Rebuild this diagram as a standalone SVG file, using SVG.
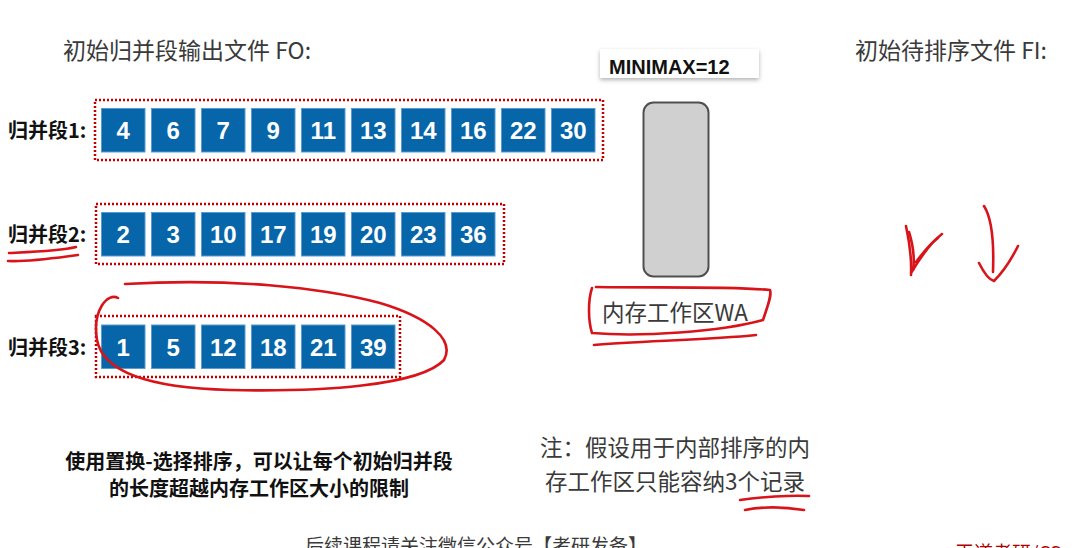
<svg xmlns="http://www.w3.org/2000/svg" width="1075" height="548" viewBox="0 0 1075 548">
<defs>
<style>
.t{font-family:"Noto Sans CJK SC","Noto Sans",sans-serif;fill:#3a3a3a}
.lbl{font-family:"Noto Sans CJK SC",sans-serif;font-size:20px;font-weight:bold;fill:#111}
.box{fill:#0765a9;stroke:#5a9bd0;stroke-width:1}
.num{font-family:"Liberation Sans",Arial,sans-serif;font-size:24px;font-weight:bold;fill:#fff;text-anchor:middle}
.seg{fill:none;stroke:#c00000;stroke-width:2.5;stroke-dasharray:2 2}
.ink{fill:none;stroke:#d8141a;stroke-width:2.6;stroke-linecap:round;stroke-linejoin:round}
</style>
<filter id="sh" x="-10%" y="-30%" width="120%" height="170%"><feDropShadow dx="0" dy="2" stdDeviation="2" flood-color="#000" flood-opacity="0.3"/></filter>
</defs>
<rect width="1075" height="548" fill="#fff"/>
<text class="t" x="63" y="59" font-size="23">初始归并段输出文件 FO:</text>
<text class="t" x="855" y="59" font-size="23">初始待排序文件 FI:</text>

<g id="seg1">
<text class="lbl" x="8" y="138">归并段1:</text>
<rect class="seg" x="95" y="100" width="508" height="60"/>
<rect class="box" x="101.5" y="108.5" width="43.5" height="43.5"/><text class="num" x="123.3" y="139">4</text>
<rect class="box" x="151.5" y="108.5" width="43.5" height="43.5"/><text class="num" x="173.3" y="139">6</text>
<rect class="box" x="201.5" y="108.5" width="43.5" height="43.5"/><text class="num" x="223.3" y="139">7</text>
<rect class="box" x="251.5" y="108.5" width="43.5" height="43.5"/><text class="num" x="273.3" y="139">9</text>
<rect class="box" x="301.5" y="108.5" width="43.5" height="43.5"/><text class="num" x="323.3" y="139">11</text>
<rect class="box" x="351.5" y="108.5" width="43.5" height="43.5"/><text class="num" x="373.3" y="139">13</text>
<rect class="box" x="401.5" y="108.5" width="43.5" height="43.5"/><text class="num" x="423.3" y="139">14</text>
<rect class="box" x="451.5" y="108.5" width="43.5" height="43.5"/><text class="num" x="473.3" y="139">16</text>
<rect class="box" x="501.5" y="108.5" width="43.5" height="43.5"/><text class="num" x="523.3" y="139">22</text>
<rect class="box" x="551.5" y="108.5" width="43.5" height="43.5"/><text class="num" x="573.3" y="139">30</text>
</g>

<g id="seg2">
<text class="lbl" x="8" y="242">归并段2:</text>
<rect class="seg" x="96" y="204" width="408" height="60"/>
<rect class="box" x="101.5" y="212.5" width="43.5" height="43.5"/><text class="num" x="123.3" y="243">2</text>
<rect class="box" x="151.5" y="212.5" width="43.5" height="43.5"/><text class="num" x="173.3" y="243">3</text>
<rect class="box" x="201.5" y="212.5" width="43.5" height="43.5"/><text class="num" x="223.3" y="243">10</text>
<rect class="box" x="251.5" y="212.5" width="43.5" height="43.5"/><text class="num" x="273.3" y="243">17</text>
<rect class="box" x="301.5" y="212.5" width="43.5" height="43.5"/><text class="num" x="323.3" y="243">19</text>
<rect class="box" x="351.5" y="212.5" width="43.5" height="43.5"/><text class="num" x="373.3" y="243">20</text>
<rect class="box" x="401.5" y="212.5" width="43.5" height="43.5"/><text class="num" x="423.3" y="243">23</text>
<rect class="box" x="451.5" y="212.5" width="43.5" height="43.5"/><text class="num" x="473.3" y="243">36</text>
</g>

<g id="seg3">
<text class="lbl" x="8" y="355">归并段3:</text>
<rect class="seg" x="96" y="316" width="304" height="61"/>
<rect class="box" x="101.5" y="325" width="43.5" height="43.5"/><text class="num" x="123.3" y="355.5">1</text>
<rect class="box" x="151.5" y="325" width="43.5" height="43.5"/><text class="num" x="173.3" y="355.5">5</text>
<rect class="box" x="201.5" y="325" width="43.5" height="43.5"/><text class="num" x="223.3" y="355.5">12</text>
<rect class="box" x="251.5" y="325" width="43.5" height="43.5"/><text class="num" x="273.3" y="355.5">18</text>
<rect class="box" x="301.5" y="325" width="43.5" height="43.5"/><text class="num" x="323.3" y="355.5">21</text>
<rect class="box" x="351.5" y="325" width="43.5" height="43.5"/><text class="num" x="373.3" y="355.5">39</text>
</g>

<g id="minimax">
<rect x="600" y="49" width="159" height="29" fill="#fff" filter="url(#sh)"/>
<text x="609" y="74" font-family="Liberation Sans,Arial,sans-serif" font-size="20" font-weight="bold" fill="#111">MINIMAX=12</text>
</g>

<g id="wa">
<rect x="643.5" y="102.5" width="65" height="174" rx="10" fill="#d0d0d0" stroke="#505050" stroke-width="2"/>
<text class="t" x="602" y="321" font-size="22.5" fill="#444">内存工作区WA</text>
</g>

<g id="notes">
<text x="259" y="469" text-anchor="middle" font-family="Noto Sans CJK SC,sans-serif" font-size="20" font-weight="bold" fill="#111">使用置换-选择排序，可以让每个初始归并段</text>
<text x="259" y="496" text-anchor="middle" font-family="Noto Sans CJK SC,sans-serif" font-size="20" font-weight="bold" fill="#111">的长度超越内存工作区大小的限制</text>
<text class="t" x="540" y="456" font-size="22.5" fill="#444">注：假设用于内部排序的内</text>
<text class="t" x="545" y="490" font-size="22.5" fill="#444">存工作区只能容纳3个记录</text>
<text class="t" x="305" y="553" font-size="19" fill="#222">后续课程请关注微信公众号【考研发备】</text>
<text x="955" y="560" font-family="Noto Sans CJK SC,sans-serif" font-size="19" fill="#b00000">王道考研/CS</text>
</g>

<g id="ink">
<path class="ink" d="M9,253 C30,252 60,251 76,247"/>
<path class="ink" d="M8,261 C30,262 55,258 78,255"/>
<path class="ink" d="M118,298 C108,292 92,310 97,340 C103,372 150,388 230,390 C320,392 420,386 444,360 C455,340 430,318 380,303 C320,287 230,278 125,284"/>
<path class="ink" d="M592,288 C588,300 588,320 592,333 C640,337 720,332 763,320 C768,305 772,295 770,290 C730,286 660,288 596,287"/>
<path class="ink" d="M594,345 C640,341 710,340 756,335"/>
<path class="ink" d="M740,500 C760,497 790,495 809,496"/>
<path class="ink" d="M745,510 C765,506 785,507 804,510"/>
<path class="ink" d="M906,226 C909,240 912,255 911,275 M911,273 C920,258 930,243 942,234" stroke-width="4"/>
<path class="ink" d="M909,232 C913,245 915,257 913,270 M916,262 C925,250 932,242 938,238" stroke-width="7"/>
<path class="ink" d="M984,206 C993,220 994,245 993,272 M979,263 C985,275 990,280 994,281 C1005,270 1012,258 1018,246"/>
</g>
</svg>
